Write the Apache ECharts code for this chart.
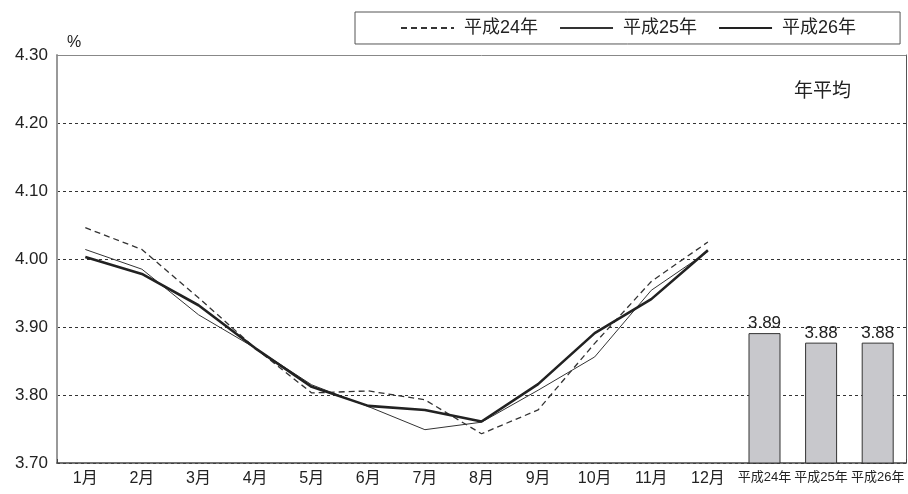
<!DOCTYPE html>
<html>
<head>
<meta charset="utf-8">
<script src="https://cdn.jsdelivr.net/npm/echarts@6/dist/echarts.min.js"></script>
<style>html,body{margin:0;padding:0;background:#fff}#c{width:908px;height:494px}</style>
</head>
<body>
<div id="c"></div>
<script>
const categories = ['1月','2月','3月','4月','5月','6月','7月','8月','9月','10月','11月','12月','平成24年','平成25年','平成26年'];
const seriesNames = ['平成24年','平成25年','平成26年'];
const h24 = [4.046, 4.014, 3.943, 3.869, 3.803, 3.806, 3.793, 3.743, 3.778, 3.876, 3.967, 4.025];
const h25 = [4.014, 3.985, 3.918, 3.869, 3.815, 3.783, 3.749, 3.760, 3.807, 3.856, 3.954, 4.011];
const h26 = [4.003, 3.978, 3.932, 3.869, 3.812, 3.784, 3.778, 3.761, 3.816, 3.891, 3.941, 4.013];
const annualAvg = [3.891, 3.877, 3.877];
const yTicks = [3.70, 3.80, 3.90, 4.00, 4.10, 4.20, 4.30];

const FONT = '"Liberation Sans", "Noto Sans CJK JP", sans-serif';
const chart = echarts.init(document.getElementById('c'));
const pad = (arr) => arr.concat([null, null, null]);
const barData = [null,null,null,null,null,null,null,null,null,null,null,null].concat(annualAvg);

chart.setOption({
  animation: false,
  textStyle: { fontFamily: FONT },
  title: {
    text: '年平均', left: 789, top: 77,
    textStyle: { fontSize: 19, fontWeight: 'normal', color: '#222', fontFamily: FONT }
  },
  legend: {
    data: seriesNames,
    left: 355, top: 12,
    width: 460,
    padding: [7, 44, 7, 45],
    borderColor: '#555', borderWidth: 1,
    itemWidth: 53, itemHeight: 14, itemGap: 21,
    itemStyle: { opacity: 0, borderWidth: 0 },
    textStyle: { fontSize: 18, color: '#222', fontFamily: FONT, padding: [0, 0, 0, 5] }
  },
  grid: { left: 57, right: 2, top: 55, bottom: 31 },
  xAxis: [{
    type: 'category',
    data: categories,
    boundaryGap: true,
    axisLine: { lineStyle: { color: '#444', width: 1.5 } },
    axisTick: { show: true, inside: true, length: 4, interval: (i) => i === 12, lineStyle: { color: '#444' } },
    axisLabel: {
      fontSize: 16, color: '#222', margin: 8, interval: 0,
      formatter: (v, i) => i >= 12 ? '{b|' + v + '}' : v,
      rich: { b: { fontSize: 13, color: '#222', fontFamily: FONT } }
    }
  }, {
    type: 'category', position: 'top', data: categories,
    axisLine: { show: true, lineStyle: { color: '#888', width: 1 } },
    axisTick: { show: false }, axisLabel: { show: false }
  }],
  yAxis: [{
    type: 'value',
    min: 3.7, max: 4.3, interval: 0.1,
    name: '%', nameLocation: 'end', nameGap: 4,
    nameTextStyle: { fontSize: 16, color: '#222', align: 'left', padding: [0, 0, 0, 10] },
    axisLine: { show: true, lineStyle: { color: '#999', width: 2 } },
    axisTick: { show: false },
    axisLabel: { fontSize: 17, color: '#222', margin: 9, formatter: (v) => v.toFixed(2) },
    splitLine: { show: true, lineStyle: { color: '#333', type: [3, 3], width: 1 } }
  }, {
    type: 'value', position: 'right', min: 3.7, max: 4.3, interval: 0.1,
    axisLine: { show: true, lineStyle: { color: '#555', width: 1 } },
    axisTick: { show: false }, axisLabel: { show: false }, splitLine: { show: false }
  }],
  series: [
    { name: seriesNames[0], type: 'line', data: pad(h24), symbol: 'none', z: 3,
      itemStyle: { color: '#333' },
      lineStyle: { color: '#333', width: 1.3, type: [6, 4] } },
    { name: seriesNames[1], type: 'line', data: pad(h25), symbol: 'none', z: 4,
      itemStyle: { color: '#333' },
      lineStyle: { color: '#333', width: 1 } },
    { name: seriesNames[2], type: 'line', data: pad(h26), symbol: 'none', z: 5,
      itemStyle: { color: '#222' },
      lineStyle: { color: '#222', width: 2.6 } },
    { name: '年平均', type: 'bar', data: barData, barWidth: 32, z: 2,
      itemStyle: { color: '#c8c8cc', borderColor: '#333', borderWidth: 1 },
      label: { show: true, position: 'top', distance: 1, fontSize: 17, color: '#222',
        formatter: (p) => p.value.toFixed(2) } }
  ]
});
</script>
</body>
</html>
